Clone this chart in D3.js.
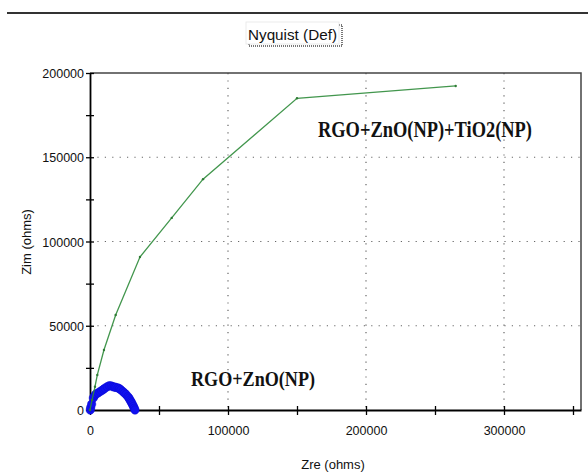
<!DOCTYPE html>
<html><head><meta charset="utf-8">
<script src="https://cdn.jsdelivr.net/npm/d3@7"></script>
<style>body{margin:0;background:#fff}svg{display:block}</style>
</head><body>
<script>
// Data
const titleText = "Nyquist (Def)";
const xLabel = "Zre (ohms)";
const yLabel = "Zim (ohms)";
const greenName = "RGO+ZnO(NP)+TiO2(NP)";
const blueName = "RGO+ZnO(NP)";
const greenZre = [0, 1500, 3600, 5300, 10100, 18600, 36200, 59200, 81900, 150000, 265000];
const greenZim = [0, 6000, 13800, 20800, 35600, 56400, 90800, 114000, 137000, 185000, 192300];
const blueZre = [200, 500, 1200, 2400, 3300, 4300, 5800, 7200, 8500, 9800, 10900, 12500, 14000, 15400, 16700, 17800, 18800, 20300, 21400, 22500, 23900, 25000, 26100, 27500, 28300, 29000, 29700, 30200, 30900, 31500, 32100, 32600];
const blueZim = [0, 1500, 3500, 7100, 8400, 9500, 10100, 10900, 11500, 12300, 13000, 13800, 14400, 14300, 13800, 13600, 13400, 13100, 12600, 11900, 10900, 10100, 9200, 7900, 7000, 5900, 5000, 4200, 3100, 2100, 1000, 0];
const xTicks = [0, 50000, 100000, 150000, 200000, 250000, 300000, 350000];
const yTicks = [0, 25000, 50000, 75000, 100000, 125000, 150000, 175000, 200000];
const xGrid = [100000, 200000, 300000];
const yGrid = [50000, 100000, 150000];
const xDomain = [0, 355800];
const yDomain = [0, 200000];

const W = 588, H = 472;
const L = 90, R = 581, T = 73, B = 410;
const svg = d3.select("body").append("svg").attr("width", W).attr("height", H);
const x = d3.scaleLinear().domain(xDomain).range([L, R]);
const y = d3.scaleLinear().domain(yDomain).range([B, T]);

// top rule
svg.append("line").attr("x1", 7).attr("x2", W).attr("y1", 13).attr("y2", 13)
  .attr("stroke", "#333").attr("stroke-width", 2.2);

// title box
const tb = svg.append("g");
tb.append("rect").attr("x", 249).attr("y", 25).attr("width", 93).attr("height", 21)
  .attr("fill", "none").attr("stroke", "#777").attr("stroke-width", 2).attr("stroke-dasharray", "1,1");
tb.append("rect").attr("x", 246).attr("y", 22).attr("width", 93).attr("height", 22)
  .attr("fill", "#fff").attr("stroke", "#e6e6e6").attr("stroke-width", 0.8);
tb.append("text").attr("x", 292.5).attr("y", 40).attr("text-anchor", "middle")
  .attr("font-family", "Liberation Sans, Arial, sans-serif").attr("font-size", 15)
  .attr("textLength", 89).attr("lengthAdjust", "spacingAndGlyphs")
  .attr("fill", "#111").text(titleText);

// grid
svg.append("g").selectAll("line").data(yGrid).join("line")
  .attr("x1", L).attr("x2", R).attr("y1", d => y(d)).attr("y2", d => y(d))
  .attr("stroke", "#666").attr("stroke-width", 1.2).attr("stroke-dasharray", "1.2,6.2");
svg.append("g").selectAll("line").data(xGrid).join("line")
  .attr("y1", T).attr("y2", B).attr("x1", d => x(d)).attr("x2", d => x(d))
  .attr("stroke", "#666").attr("stroke-width", 1.2).attr("stroke-dasharray", "1.2,6.2");

// frame (top and right)
svg.append("path").attr("d", `M${L},${T}H${R}V${B}`).attr("fill", "none")
  .attr("stroke", "#444").attr("stroke-width", 1.5);

const fontTick = "Liberation Sans, Arial, sans-serif";
// x axis
const gx = svg.append("g").attr("transform", `translate(0,${B})`)
  .call(d3.axisBottom(x).tickValues(xTicks).tickSize(4).tickSizeOuter(0)
    .tickFormat(d => d % 100000 === 0 ? String(d) : ""));
gx.select(".domain").attr("stroke", "#000").attr("stroke-width", 1.8);
gx.selectAll(".tick line").attr("y1", -4).attr("y2", 5).attr("stroke", "#000").attr("stroke-width", 1.3);
gx.selectAll(".tick text").attr("y", 0).attr("dy", "25px").attr("font-family", fontTick)
  .attr("font-size", 12.5).attr("fill", "#111");

// y axis
const gy = svg.append("g").attr("transform", `translate(${L},0)`)
  .call(d3.axisLeft(y).tickValues(yTicks).tickSize(4).tickSizeOuter(0)
    .tickFormat(d => d % 50000 === 0 ? String(d) : ""));
gy.select(".domain").attr("stroke", "#000").attr("stroke-width", 1.8);
gy.selectAll(".tick line").attr("x1", -4).attr("x2", 4).attr("stroke", "#000").attr("stroke-width", 1.3);
gy.selectAll(".tick text").attr("x", -6).attr("dy", "0.36em").attr("font-family", fontTick)
  .attr("font-size", 12.5).attr("fill", "#111");

// axis labels
svg.append("text").attr("x", 333).attr("y", 469).attr("text-anchor", "middle")
  .attr("font-family", fontTick).attr("font-size", 13).attr("fill", "#111").text(xLabel);
svg.append("text").attr("transform", "translate(31,242) rotate(-90)").attr("text-anchor", "middle")
  .attr("font-family", fontTick).attr("font-size", 13).attr("fill", "#111").text(yLabel);

// blue series
const blue = blueZre.map((v, i) => [v, blueZim[i]]);
svg.append("g").selectAll("circle").data(blue).join("circle")
  .attr("cx", d => x(d[0])).attr("cy", d => y(d[1])).attr("r", 4.2)
  .attr("fill", "#1010f0").attr("stroke", "#0a0ad0").attr("stroke-width", 0.5);

// green series
const green = greenZre.map((v, i) => [v, greenZim[i]]);
svg.append("path").datum(green)
  .attr("d", d3.line().x(d => x(d[0])).y(d => y(d[1])))
  .attr("fill", "none").attr("stroke", "#2e8b3a").attr("stroke-width", 1.3).attr("opacity", 0.9);
svg.append("g").selectAll("circle").data(green).join("circle")
  .attr("cx", d => x(d[0])).attr("cy", d => y(d[1])).attr("r", 1.2).attr("fill", "#2e7b34");

// annotations
svg.append("text").attr("x", 318).attr("y", 137)
  .attr("font-family", "Liberation Serif, Times New Roman, serif").attr("font-weight", "bold")
  .attr("font-size", 23).attr("textLength", 214).attr("lengthAdjust", "spacingAndGlyphs")
  .attr("fill", "#111").text(greenName);
svg.append("text").attr("x", 191).attr("y", 386)
  .attr("font-family", "Liberation Serif, Times New Roman, serif").attr("font-weight", "bold")
  .attr("font-size", 21).attr("textLength", 124).attr("lengthAdjust", "spacingAndGlyphs")
  .attr("fill", "#111").text(blueName);
</script>
</body></html>
